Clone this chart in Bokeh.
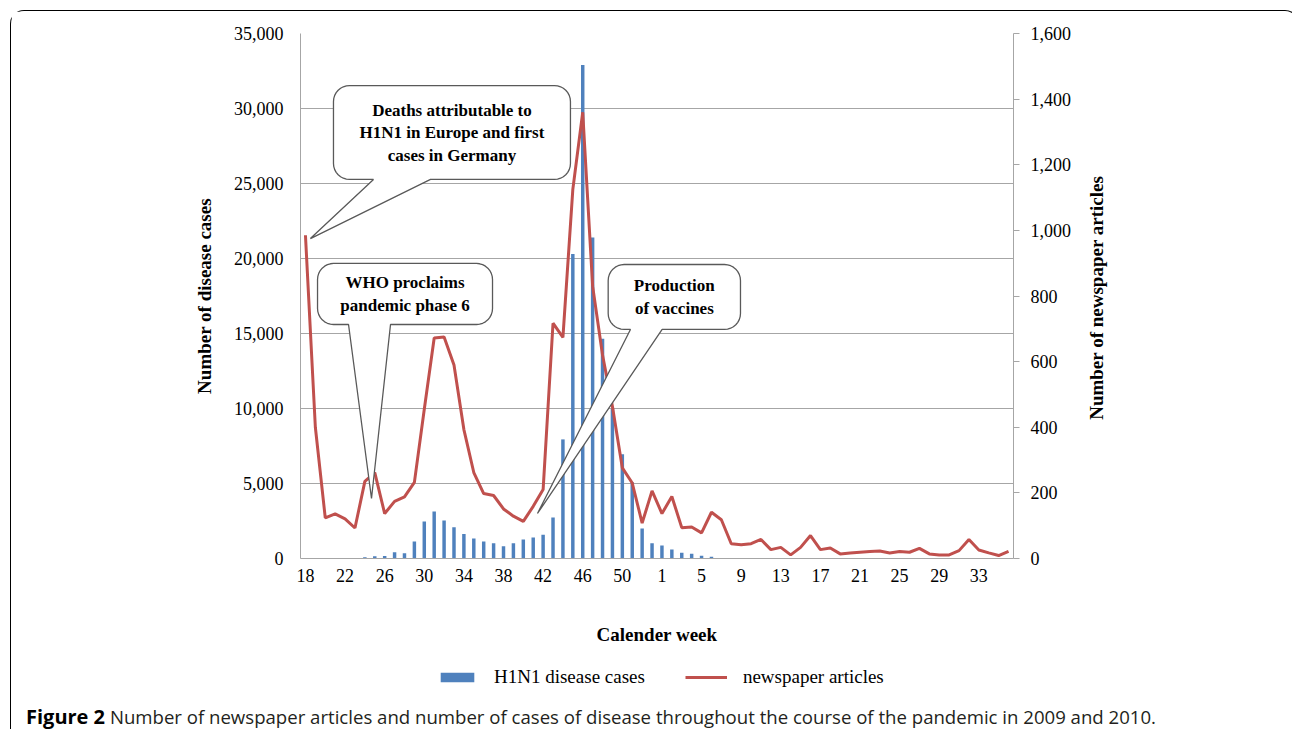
import math
from bokeh.plotting import figure
from bokeh.layouts import column
from bokeh.models import (Range1d, LinearAxis, FixedTicker, NumeralTickFormatter,
                          Legend, LegendItem, ColumnDataSource, Div)
from bokeh.core.properties import value
from bokeh.embed import file_html
from bokeh.resources import INLINE

# ---------------- data ----------------
weeks = [18, 19, 20, 21, 22, 23, 24, 25, 26, 27, 28, 29, 30, 31, 32, 33, 34, 35,
         36, 37, 38, 39, 40, 41, 42, 43, 44, 45, 46, 47, 48, 49, 50, 51, 52, 53,
         1, 2, 3, 4, 5, 6, 7, 8, 9, 10, 11, 12, 13, 14, 15, 16, 17, 18,
         19, 20, 21, 22, 23, 24, 25, 26, 27, 28, 29, 30, 31, 32, 33, 34, 35, 36]

cases = [0, 0, 0, 0, 0, 0, 80, 150, 170, 420, 350, 1130, 2460, 3130, 2530, 2080, 1640, 1330,
         1130, 1020, 820, 1020, 1260, 1400, 1580, 2730, 7940, 20300, 32900, 21400, 14650, 9980, 6950, 5080, 2000, 1020,
         870, 600, 390, 310, 180, 120, 0, 0, 0, 0, 0, 0, 0, 0, 0, 0, 0, 0,
         0, 0, 0, 0, 0, 0, 0, 0, 0, 0, 0, 0, 0, 0, 0, 0, 0, 0]

articles = [985, 400, 124, 136, 121, 93, 235, 262, 137, 174, 188, 232, 455, 672, 675, 590, 393, 262,
            198, 192, 151, 129, 113, 159, 210, 717, 674, 1125, 1360, 830, 620, 463, 276, 230, 108, 206,
            137, 189, 94, 96, 78, 141, 118, 45, 42, 45, 58, 27, 34, 11, 34, 70, 27, 32,
            14, 17, 19, 21, 23, 17, 21, 19, 31, 14, 11, 11, 24, 58, 26, 17, 9, 22]

tick_every = 4
left_ticks = [0, 5000, 10000, 15000, 20000, 25000, 30000, 35000]
right_ticks = [0, 200, 400, 600, 800, 1000, 1200, 1400, 1600]

series_names = ["H1N1 disease cases", "newspaper articles"]
right_title = "Number of newspaper articles"
caption_bold = "Figure 2"
caption_text = ("Number of newspaper articles and number of cases of disease throughout "
                "the course of the pandemic in 2009 and 2010.")

# annotations: box (x0, x1, y0, y1) in data units, tail base (xa, xb), tip (x, y)
callouts = [
    dict(lines=["Deaths attributable to", "H1N1 in Europe and first", "cases in Germany"],
         box=(2.83, 26.76, 25270, 31530), base=(6.87, 12.63), tip=(0.5, 21330)),
    dict(lines=["WHO proclaims", "pandemic phase 6"],
         box=(1.22, 18.89, 15600, 19670), base=(4.35, 8.59), tip=(6.67, 4000)),
    dict(lines=["Production", "of vaccines"],
         box=(30.57, 43.93, 15270, 19600), base=(32.82, 36.02), tip=(23.43, 3000)),
]

# ---------------- layout ----------------
W = 1277
FW, FH = 713, 525
ML, MT, MB = 289, 22, 95
MR = W - ML - FW
H1 = MT + FH + MB
HL = 42
H2 = 33

XMIN, XMAX = -0.5, len(weeks) - 0.5
YMIN, YMAX = 0, 35000
SX = FW / (XMAX - XMIN)
SY = FH / (YMAX - YMIN)

SERIF = "Liberation Serif"
GRID = "#A6A6A6"
BLUE = "#4F81BD"
RED = "#C0504D"

p = figure(width=W, height=H1, output_backend="svg", toolbar_location=None,
           x_range=Range1d(XMIN, XMAX), y_range=Range1d(YMIN, YMAX),
           min_border_left=ML, min_border_right=MR, min_border_top=MT, min_border_bottom=MB)
p.outline_line_color = None
p.background_fill_color = "white"
p.border_fill_color = "white"
p.xgrid.visible = False
p.ygrid.ticker = FixedTicker(ticks=left_ticks)
p.ygrid.grid_line_color = GRID
p.ygrid.grid_line_width = 1

src = ColumnDataSource(dict(x=list(range(len(weeks))), cases=cases, articles=articles))

# x axis
xa = p.xaxis[0]
xa.ticker = FixedTicker(ticks=list(range(0, len(weeks), tick_every)))
xa.major_label_overrides = {i: str(weeks[i]) for i in range(0, len(weeks), tick_every)}
xa.axis_label = "Calender week"
xa.axis_line_color = GRID
xa.major_tick_line_color = None
xa.major_tick_out = 0
xa.major_tick_in = 0
xa.minor_tick_line_color = None
xa.major_label_standoff = 10
xa.axis_label_standoff = 39
xa.major_label_text_font = SERIF
xa.major_label_text_font_size = "18px"
xa.major_label_text_color = "black"
xa.axis_label_text_font = SERIF
xa.axis_label_text_font_style = "bold"
xa.axis_label_text_font_size = "19px"
xa.axis_label_text_color = "black"

# left axis
ya = p.yaxis[0]
ya.ticker = FixedTicker(ticks=left_ticks)
ya.formatter = NumeralTickFormatter(format="0,0")
ya.axis_label = "Number of disease cases"
ya.axis_line_color = GRID
ya.major_tick_line_color = None
ya.major_tick_out = 0
ya.major_tick_in = 0
ya.minor_tick_line_color = None
ya.major_label_standoff = 17
ya.axis_label_standoff = 16
ya.major_label_text_font = SERIF
ya.major_label_text_font_size = "18px"
ya.major_label_text_color = "black"
ya.axis_label_text_font = SERIF
ya.axis_label_text_font_style = "bold"
ya.axis_label_text_font_size = "19px"
ya.axis_label_text_color = "black"

# right axis (its title is set as rotated text below, reading bottom-up)
p.extra_y_ranges = {"art": Range1d(0, 1600)}
ra = LinearAxis(y_range_name="art", ticker=FixedTicker(ticks=right_ticks),
                formatter=NumeralTickFormatter(format="0,0"))
ra.axis_line_color = GRID
ra.major_tick_line_color = GRID
ra.major_tick_out = 6
ra.major_tick_in = 0
ra.minor_tick_line_color = None
ra.major_label_standoff = 11
ra.major_label_text_font = SERIF
ra.major_label_text_font_size = "18px"
ra.major_label_text_color = "black"
p.add_layout(ra, "right")

# data marks
bars = p.vbar(x="x", top="cases", width=0.35, source=src,
              fill_color=BLUE, line_color=None)
line = p.line(x="x", y="articles", y_range_name="art", source=src,
              line_color=RED, line_width=3)


# callouts
def bubble(box, base, tip, r=16, n=8):
    x0, x1, y0, y1 = box
    X0, X1 = (x0 - XMIN) * SX, (x1 - XMIN) * SX
    Y0, Y1 = (y0 - YMIN) * SY, (y1 - YMIN) * SY
    pts = []

    def arc(cx, cy, a0, a1):
        for k in range(n + 1):
            a = math.radians(a0 + (a1 - a0) * k / n)
            pts.append((cx + r * math.cos(a), cy + r * math.sin(a)))

    arc(X0 + r, Y0 + r, 180, 270)
    pts.append(((base[0] - XMIN) * SX, Y0))
    pts.append(((tip[0] - XMIN) * SX, (tip[1] - YMIN) * SY))
    pts.append(((base[1] - XMIN) * SX, Y0))
    arc(X1 - r, Y0 + r, 270, 360)
    arc(X1 - r, Y1 - r, 0, 90)
    arc(X0 + r, Y1 - r, 90, 180)
    xs = [px / SX + XMIN for px, _ in pts]
    ys = [py / SY + YMIN for _, py in pts]
    return xs, ys


for c in callouts:
    xs, ys = bubble(c["box"], c["base"], c["tip"])
    p.patch(xs, ys, fill_color="white", line_color="#595959", line_width=1.3)
    cx = (c["box"][0] + c["box"][1]) / 2
    cy = (c["box"][2] + c["box"][3]) / 2
    nl = len(c["lines"])
    offs = [(k - (nl - 1) / 2) * 22.5 for k in range(nl)]
    p.text(x=[cx] * nl, y=[cy] * nl, text=c["lines"], y_offset=offs,
           text_font=value(SERIF), text_font_style="bold", text_font_size="17px",
           text_align="center", text_baseline="middle", text_color="black")

# ---------------- legend strip (same frame columns as the chart) ----------------
lf = figure(width=W, height=HL, output_backend="svg", toolbar_location=None,
            x_range=Range1d(XMIN, XMAX), y_range=Range1d(YMIN, YMAX),
            x_axis_type=None, y_axis_type=None,
            min_border_left=ML, min_border_right=MR, min_border_top=0, min_border_bottom=0)
lf.outline_line_color = None
lf.grid.visible = False
lf.background_fill_color = "white"
lf.border_fill_color = "white"
lg_bar = lf.vbar(x="x", top="cases", width=0.35, source=src, fill_color=BLUE,
                 line_color=None, visible=False)
lg_line = lf.line(x="x", y="articles", source=src, line_color=RED, line_width=3,
                  visible=False)
legend = Legend(items=[LegendItem(label=series_names[0], renderers=[lg_bar]),
                       LegendItem(label=series_names[1], renderers=[lg_line])],
                orientation="horizontal", location=(136, 7),
                glyph_width=42, glyph_height=12, label_standoff=16, spacing=40,
                padding=0, margin=0, border_line_color=None, background_fill_alpha=0,
                inactive_fill_alpha=0,
                label_text_font=SERIF, label_text_font_size="19px", label_text_color="black")
lf.add_layout(legend)

# caption
cap_html = ('<div style="padding-left:10px; font-family:\'Open Sans\'; font-size:18.6px; '
            'line-height:33px; color:#231f20; white-space:nowrap;">'
            '<b style="color:#000; font-size:20px;">%s</b> %s</div>' % (caption_bold, caption_text))
cap = Div(text=cap_html, width=W, height=H2)

# right axis title, rotated to read bottom-up
TW, TH = 260, 24
tcx, tcy = 1080.5, 281.5
rt_html = ('<div style="width:%dpx; height:%dpx; line-height:%dpx; text-align:center; '
           'font-family:\'Liberation Serif\'; font-weight:bold; font-size:19px; color:black; '
           'white-space:nowrap;">%s</div>' % (TW, TH, TH, right_title))
rt = Div(text=rt_html, width=TW, height=TH,
         styles={"position": "absolute", "left": "%gpx" % (tcx - TW / 2),
                 "top": "%gpx" % (tcy - TH / 2), "transform": "rotate(-90deg)",
                 "z-index": "5", "overflow": "visible"})

layout = column(p, lf, cap, rt, spacing=0,
                styles={"margin-left": "10px", "margin-top": "10px", "position": "relative",
                        "border": "1.5px solid black", "border-bottom": "none",
                        "border-radius": "14px 14px 0 0", "background": "white"})

open("out.html", "w").write(file_html(layout, INLINE))
